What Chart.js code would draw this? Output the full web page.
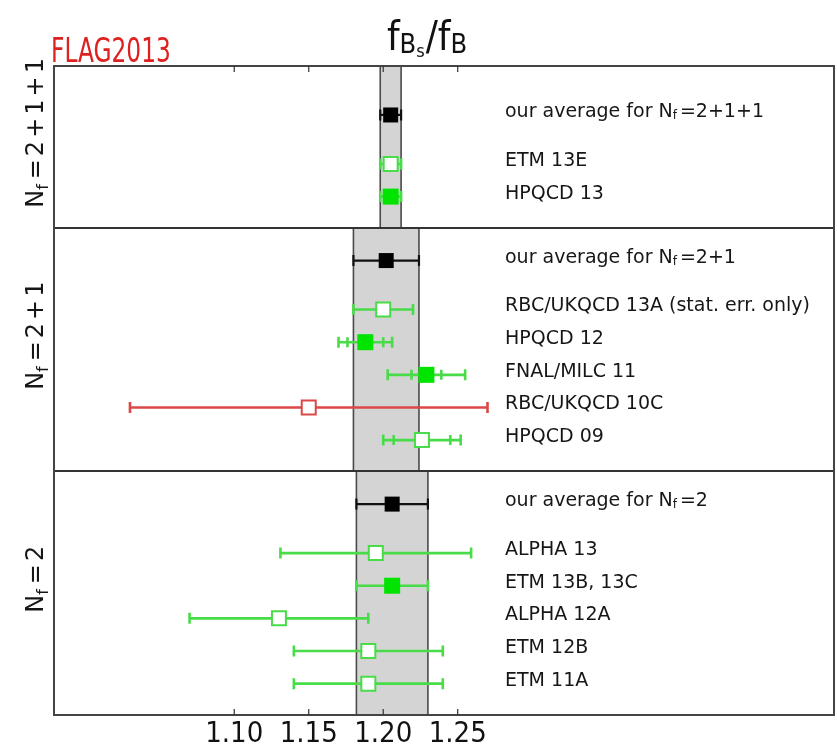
<!DOCTYPE html>
<html>
<head>
<meta charset="utf-8">
<script src="https://cdn.jsdelivr.net/npm/chart.js@4.4.0/dist/chart.umd.min.js"></script>
<style>
html,body{margin:0;padding:0;background:#fff;}
#wrap{width:837px;height:752px;position:relative;}
canvas{display:block;}
</style>
</head>
<body>
<div id="wrap"><canvas id="c" width="837" height="752"></canvas></div>
<script>
// ---------------- data ----------------
const groupNames = ['2+1+1', '2+1', '2'];
const averageValues = [1.205, 1.202, 1.206];
const averageErrors = [0.007, 0.022, 0.024];

const collaborations = ['ETM 13E', 'HPQCD 13',
  'RBC/UKQCD 13A (stat. err. only)', 'HPQCD 12', 'FNAL/MILC 11', 'RBC/UKQCD 10C', 'HPQCD 09',
  'ALPHA 13', 'ETM 13B, 13C', 'ALPHA 12A', 'ETM 12B', 'ETM 11A'];
const collabGroup = [0, 0, 1, 1, 1, 1, 1, 2, 2, 2, 2, 2];
const ratioValues = [1.205, 1.205, 1.200, 1.188, 1.229, 1.150, 1.226, 1.195, 1.206, 1.130, 1.190, 1.190];
const totalErrors = [0.007, 0.007, 0.020, 0.018, 0.026, 0.120, 0.026, 0.064, 0.024, 0.060, 0.050, 0.050];
const statErrors  = [null, null, null, 0.012, 0.010, null, 0.019, null, null, null, null, null];
// used = in average (filled green), other = open green, failed = open red
const status = ['other', 'used', 'other', 'used', 'used', 'failed', 'other', 'other', 'used', 'other', 'other', 'other'];

const xTickValues = [1.10, 1.15, 1.20, 1.25];
const xTickLabels = ['1.10', '1.15', '1.20', '1.25'];
const xMin = 0.979, xMax = 1.5026;

// ---------------- row layout (category positions) ----------------
const rowY = new Array(collaborations.length);
const avgY = [], panelTop = [], panelBottom = [];
let base = 0;
for (let g = groupNames.length - 1; g >= 0; g--) {
  const idx = collaborations.map((c, i) => i).filter(i => collabGroup[i] === g);
  let yy = base + 0.96;
  for (let k = idx.length - 1; k >= 0; k--) { rowY[idx[k]] = yy; yy += 1; }
  avgY[g] = yy - 1 + 1.5;
  panelBottom[g] = base;
  panelTop[g] = avgY[g] + (g === 0 ? 1.5 : 1.0);
  base = panelTop[g];
}
const yMax = panelTop[0];

const FONT = "'DejaVu Sans', sans-serif";
const FONTC = "'DejaVu Sans Condensed', 'DejaVu Sans', sans-serif";
const GREEN_FILL = '#00e400';
const GREEN_LINE = '#48dc48';
const RED_LINE = '#dc4848';
const TEXT = '#161616';

function pointsFor(s) {
  return collaborations.map((c, i) => ({x: ratioValues[i], y: rowY[i], s: status[i]})).filter(p => p.s === s);
}

function drawRuns(ctx, runs, x, y, align) {
  let w = 0;
  runs.forEach(r => { ctx.font = r.size + 'px ' + (r.family || FONT); r.w = ctx.measureText(r.text).width; w += r.w + (r.gap || 0); });
  let cx = align === 'center' ? x - w / 2 : x;
  runs.forEach(r => { ctx.font = r.size + 'px ' + (r.family || FONT); ctx.fillText(r.text, cx, y + (r.dy || 0)); cx += r.w + (r.gap || 0); });
}

// split "2+1+1" into runs with operator spacing (mathtext-like)
function mathRuns(expr, size, gap) {
  const out = [{text: '=', size: size, gap: gap}];
  expr.split('+').forEach((d, k, arr) => {
    out.push({text: d, size: size, gap: k < arr.length - 1 ? gap : 0});
    if (k < arr.length - 1) out.push({text: '+', size: size, gap: gap});
  });
  return out;
}

function errBar(ctx, xs, yPix, v, e, stat, color, lw) {
  const l = xs.getPixelForValue(v - e), r = xs.getPixelForValue(v + e);
  ctx.strokeStyle = color; ctx.lineWidth = lw;
  ctx.beginPath();
  ctx.moveTo(l, yPix); ctx.lineTo(r, yPix);
  ctx.moveTo(l, yPix - 5.5); ctx.lineTo(l, yPix + 5.5);
  ctx.moveTo(r, yPix - 5.5); ctx.lineTo(r, yPix + 5.5);
  if (stat) {
    const sl = xs.getPixelForValue(v - stat), sr = xs.getPixelForValue(v + stat);
    ctx.moveTo(sl, yPix - 5); ctx.lineTo(sl, yPix + 5);
    ctx.moveTo(sr, yPix - 5); ctx.lineTo(sr, yPix + 5);
  }
  ctx.stroke();
}

const figPlugin = {
  id: 'fig',
  beforeDatasetsDraw(chart) {
    const {ctx, scales: {x, y}} = chart;
    ctx.save();
    for (let g = 0; g < groupNames.length; g++) {
      const l = x.getPixelForValue(averageValues[g] - averageErrors[g]);
      const r = x.getPixelForValue(averageValues[g] + averageErrors[g]);
      const t = y.getPixelForValue(panelTop[g]), b = y.getPixelForValue(panelBottom[g]);
      ctx.fillStyle = '#d4d4d4';
      ctx.fillRect(l, t, r - l, b - t);
      ctx.strokeStyle = '#4a4a4a'; ctx.lineWidth = 1.6;
      ctx.beginPath();
      ctx.moveTo(l, t); ctx.lineTo(l, b);
      ctx.moveTo(r, t); ctx.lineTo(r, b);
      ctx.stroke();
    }
    for (let i = 0; i < collaborations.length; i++) {
      const col = status[i] === 'failed' ? RED_LINE : GREEN_LINE;
      errBar(ctx, x, y.getPixelForValue(rowY[i]), ratioValues[i], totalErrors[i], statErrors[i], col, 2.6);
    }
    for (let g = 0; g < groupNames.length; g++) {
      errBar(ctx, x, y.getPixelForValue(avgY[g]), averageValues[g], averageErrors[g], null, '#111', 2.2);
    }
    ctx.restore();
  },
  afterDatasetsDraw(chart) {
    const {ctx, chartArea: a, scales: {x, y}} = chart;
    ctx.save();
    ctx.strokeStyle = '#333'; ctx.lineWidth = 2;
    ctx.beginPath();
    for (let g = 1; g < groupNames.length; g++) {
      const py = Math.round(y.getPixelForValue(panelTop[g]));
      ctx.moveTo(a.left, py); ctx.lineTo(a.right, py);
    }
    ctx.stroke();
    ctx.strokeStyle = '#444'; ctx.lineWidth = 2;
    ctx.strokeRect(a.left, a.top, a.right - a.left, a.bottom - a.top);
    ctx.strokeStyle = '#333'; ctx.lineWidth = 1.2;
    ctx.beginPath();
    xTickValues.forEach(v => {
      const px = x.getPixelForValue(v);
      ctx.moveTo(px, a.bottom); ctx.lineTo(px, a.bottom - 6);
      ctx.moveTo(px, a.top); ctx.lineTo(px, a.top + 6);
    });
    ctx.stroke();

    // right-hand labels
    ctx.fillStyle = TEXT; ctx.textBaseline = 'middle'; ctx.textAlign = 'left';
    const lx = 505;
    for (let i = 0; i < collaborations.length; i++) {
      ctx.font = '19px ' + FONT;
      ctx.fillText(collaborations[i], lx, y.getPixelForValue(rowY[i]) - 3);
    }
    for (let g = 0; g < groupNames.length; g++) {
      drawRuns(ctx, [
        {text: 'our average for N', size: 19},
        {text: 'f', size: 12, dy: 4, gap: 3}
      ].concat(mathRuns(groupNames[g], 19, 0)), lx, y.getPixelForValue(avgY[g]) - 3, 'left');
    }

    // left group labels (rotated)
    ctx.textBaseline = 'alphabetic';
    for (let g = 0; g < groupNames.length; g++) {
      const cy = (y.getPixelForValue(panelTop[g]) + y.getPixelForValue(panelBottom[g])) / 2 - 14;
      ctx.save();
      ctx.translate(43, cy);
      ctx.rotate(-Math.PI / 2);
      drawRuns(ctx, [
        {text: 'N', size: 24},
        {text: 'f', size: 16, dy: 5, gap: 5}
      ].concat(mathRuns(groupNames[g], 24, 3)), 0, 0, 'center');
      ctx.restore();
    }

    // title f_{B_s}/f_B
    ctx.fillStyle = '#111';
    drawRuns(ctx, [
      {text: 'f', size: 40, family: FONTC},
      {text: 'B', size: 27, dy: 3, family: FONTC},
      {text: 's', size: 18, dy: 7, family: FONTC, gap: 1},
      {text: '/f', size: 40, family: FONTC},
      {text: 'B', size: 27, dy: 3, family: FONTC}
    ], 427, 50, 'center');

    // FLAG logo
    ctx.save();
    ctx.fillStyle = '#dd2020';
    ctx.translate(51, 62);
    ctx.scale(0.63, 0.92);
    ctx.font = '37px ' + FONT;
    ctx.fillText('FLAG2013', 0, 0);
    ctx.restore();

    ctx.restore();
  }
};

const sq = 1 / Math.SQRT1_2 / 2;
new Chart(document.getElementById('c'), {
  type: 'scatter',
  data: {
    datasets: [
      {label: 'average', data: averageValues.map((v, g) => ({x: v, y: avgY[g]})),
       pointStyle: 'rect', pointRadius: 15 * sq, backgroundColor: '#000', borderColor: '#000', borderWidth: 0},
      {label: 'used', data: pointsFor('used'),
       pointStyle: 'rect', pointRadius: 16 * sq, backgroundColor: GREEN_FILL, borderColor: GREEN_FILL, borderWidth: 0},
      {label: 'other', data: pointsFor('other'),
       pointStyle: 'rect', pointRadius: 14 * sq, backgroundColor: '#fff', borderColor: GREEN_LINE, borderWidth: 2},
      {label: 'failed', data: pointsFor('failed'),
       pointStyle: 'rect', pointRadius: 14 * sq, backgroundColor: '#fff', borderColor: RED_LINE, borderWidth: 2}
    ]
  },
  options: {
    responsive: false,
    animation: false,
    layout: {autoPadding: false, padding: {left: 54, right: 3, top: 66, bottom: 0}},
    plugins: {legend: {display: false}, tooltip: {enabled: false}},
    scales: {
      x: {
        type: 'linear', min: xMin, max: xMax,
        afterBuildTicks: s => { s.ticks = xTickValues.map(v => ({value: v})); },
        afterFit: s => { s.height = 37; },
        ticks: {
          callback: (v, i) => xTickLabels[i],
          font: {family: "'DejaVu Sans Condensed', 'DejaVu Sans', sans-serif", size: 29},
          color: '#111', padding: 2, maxRotation: 0, autoSkip: false
        },
        grid: {display: false, drawTicks: false},
        border: {display: false}
      },
      y: {display: false, min: 0, max: yMax}
    }
  },
  plugins: [figPlugin]
});
</script>
</body>
</html>
